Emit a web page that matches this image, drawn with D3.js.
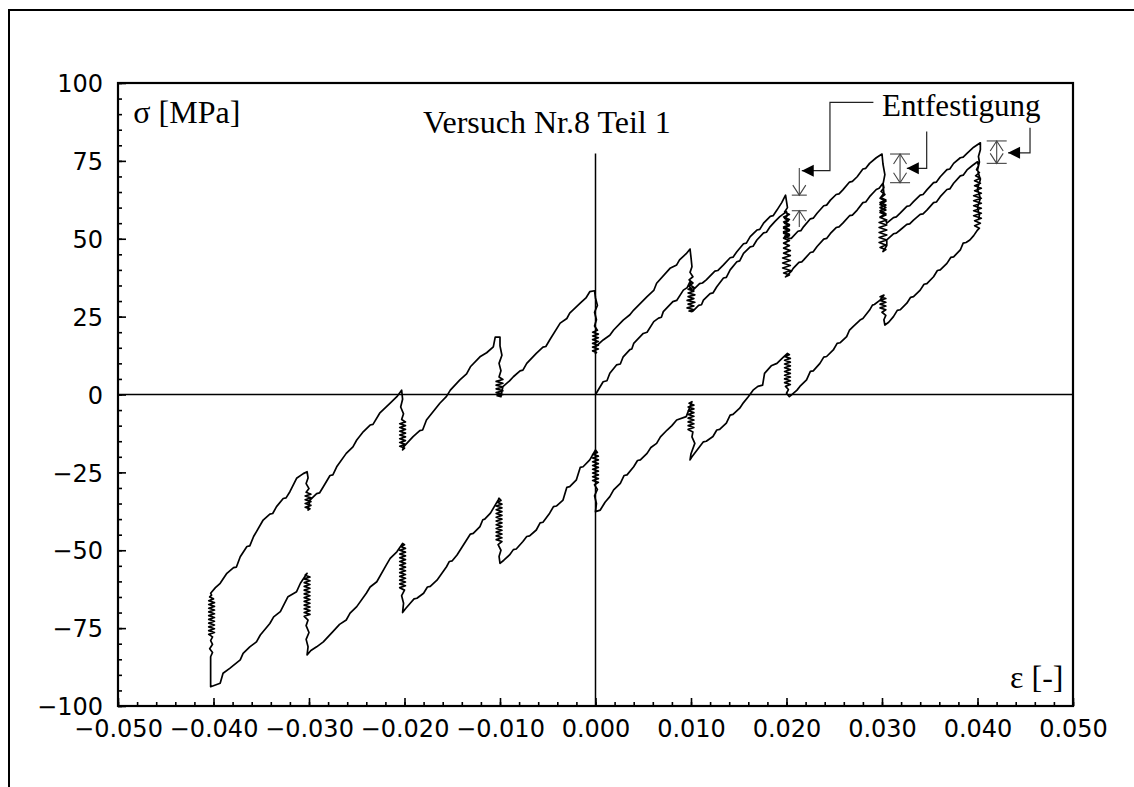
<!DOCTYPE html>
<html>
<head>
<meta charset="utf-8">
<script src="https://cdnjs.cloudflare.com/ajax/libs/d3/7.8.5/d3.min.js"></script>
<style>
body{margin:0;background:#fff}
</style>
</head>
<body>
<div id="chart"></div>
<script>
const xTicks = [-0.05, -0.04, -0.03, -0.02, -0.01, 0, 0.01, 0.02, 0.03, 0.04, 0.05]
const yTicks = [-100, -75, -50, -25, 0, 25, 50, 75, 100]

// [strain, stress] - Erstbelastung 0 -> 0.04 (incl. Relaxation)
const firstLoading = [
  [0,0],[0.0008,4.1],[0.0012,4.4],[0.0015,6.8],[0.0022,9.5],[0.0026,9.8],[0.0029,12.1],[0.0036,14.4],[0.0038,14.6],
  [0.0040,16.4],[0.0050,19.6],[0.0054,20.0],[0.0061,23.4],[0.0066,24.5],[0.0069,24.8],[0.0071,26.6],[0.0081,29.8],
  [0.0085,30.2],[0.0092,33.5],[0.0096,34.3],[0.0099,36.2],
  [0.0100,35.0],[0.0103,34.4],[0.0097,33.8],[0.0103,33.2],[0.0097,32.6],[0.0104,32.0],[0.0097,31.4],[0.0103,30.8],
  [0.0096,30.2],[0.0104,29.6],[0.0097,29.0],[0.0103,28.4],[0.0096,27.8],[0.0103,27.2],[0.0098,26.8],[0.0101,26.6],
  [0.0102,26.8],[0.0108,28.6],[0.0111,28.8],[0.0113,30.3],[0.0120,32.4],[0.0123,32.6],[0.0127,34.6],[0.0134,37.4],
  [0.0137,37.6],[0.0141,40.0],[0.0148,42.6],[0.0151,42.9],[0.0155,45.3],[0.0162,47.4],[0.0165,47.6],[0.0169,49.6],
  [0.0176,51.9],[0.0179,52.1],[0.0183,53.9],[0.0188,55.6],[0.0193,57.1],[0.0200,58.7],
  [0.0201,57.4],[0.0198,56.6],[0.0202,55.8],[0.0198,55.0],[0.0203,54.2],[0.0197,53.4],[0.0203,52.6],[0.0197,51.8],
  [0.0203,51.0],[0.0197,50.2],[0.0203,49.4],[0.0197,48.6],[0.0203,47.8],[0.0197,47.0],[0.0204,46.2],[0.0197,45.4],
  [0.0204,44.6],[0.0196,43.8],[0.0204,43.0],[0.0196,42.2],[0.0204,41.4],[0.0196,40.6],[0.0204,39.8],[0.0197,39.0],
  [0.0203,38.4],[0.0199,37.8],
  [0.0205,39.5],[0.0207,40.5],[0.0213,42.4],[0.0216,42.6],[0.0218,43.2],[0.0225,45.6],[0.0228,45.8],[0.0232,47.5],
  [0.0239,49.9],[0.0242,50.1],[0.0246,51.7],[0.0252,53.6],[0.0255,53.8],[0.0259,55.0],[0.0266,57.4],[0.0269,57.6],
  [0.0274,59.2],[0.0280,61.6],[0.0283,61.8],[0.0287,63.5],[0.0294,65.8],[0.0297,66.2],[0.0301,67.8],
  [0.0302,66.4],[0.0299,65.2],[0.0303,64.2],[0.0299,63.2],[0.0304,62.4],[0.0298,61.6],[0.0304,60.8],[0.0298,60.0],
  [0.0304,59.2],[0.0298,58.4],[0.0304,57.6],[0.0298,56.8],[0.0305,56.0],[0.0297,55.2],[0.0305,54.4],[0.0297,53.6],
  [0.0305,52.8],[0.0297,52.0],[0.0305,51.2],[0.0297,50.4],[0.0305,49.6],[0.0297,48.8],[0.0304,48.0],[0.0298,47.2],
  [0.0304,46.5],[0.0301,45.9],
  [0.0305,47.8],[0.0305,49.6],[0.0312,51.6],[0.0315,51.8],[0.0319,52.8],[0.0326,54.6],[0.0329,54.8],[0.0333,56.0],
  [0.0340,57.8],[0.0343,58.0],[0.0347,59.2],[0.0354,61.6],[0.0357,61.8],[0.0361,63.5],[0.0368,65.8],[0.0371,66.0],
  [0.0375,67.8],[0.0382,70.2],[0.0385,70.4],[0.0389,72.1],[0.0395,73.6],[0.0400,74.7],
  [0.0401,73.4],[0.0399,72.2],[0.0402,71.2],[0.0398,70.2],[0.0403,69.4],[0.0397,68.6],[0.0403,67.8],[0.0397,67.0],
  [0.0404,66.2],[0.0397,65.4],[0.0404,64.6],[0.0396,63.8],[0.0404,63.0],[0.0396,62.2],[0.0404,61.4],[0.0396,60.6],
  [0.0404,59.8],[0.0396,59.0],[0.0404,58.2],[0.0396,57.4],[0.0404,56.6],[0.0397,55.8],[0.0403,55.0],[0.0397,54.2],
  [0.0402,53.4],[0.0400,52.8]
]

// Druckast 0.04 -> -0.04
const compression = [
  [0.0396,51.0],[0.0392,49.6],[0.0388,48.8],[0.0385,48.6],[0.0382,46.4],[0.0375,44.2],[0.0372,44.0],[0.0368,42.1],
  [0.0361,40.0],[0.0358,39.8],[0.0354,37.8],[0.0347,35.6],[0.0344,35.4],[0.0340,33.5],[0.0333,31.4],[0.0330,31.2],
  [0.0326,29.3],[0.0319,27.2],[0.0316,27.0],[0.0312,25.0],[0.0307,23.2],[0.0303,22.3],
  [0.0302,24.0],[0.0304,25.4],[0.0300,26.4],[0.0304,27.2],[0.0298,27.8],[0.0304,28.4],[0.0298,29.0],[0.0304,29.6],
  [0.0298,30.2],[0.0304,30.8],[0.0298,31.4],[0.0302,31.9],
  [0.0298,30.3],[0.0292,28.9],[0.0290,28.7],[0.0287,27.1],[0.0280,24.4],[0.0277,23.9],[0.0270,21.9],[0.0266,20.7],
  [0.0263,18.6],[0.0256,16.6],[0.0253,16.4],[0.0249,14.3],[0.0242,12.2],[0.0239,12.0],[0.0235,10.0],[0.0228,7.6],
  [0.0225,7.4],[0.0221,4.7],[0.0214,2.6],[0.0211,1.4],[0.0205,-0.2],[0.0203,-0.7],
  [0.0200,0.4],[0.0202,1.6],[0.0199,2.6],[0.0204,3.2],[0.0198,3.8],[0.0204,4.4],[0.0198,5.0],[0.0204,5.6],
  [0.0198,6.2],[0.0204,6.8],[0.0198,7.4],[0.0204,8.0],[0.0198,8.6],[0.0204,9.2],[0.0198,9.8],[0.0204,10.4],
  [0.0198,11.0],[0.0204,11.6],[0.0198,12.2],[0.0203,12.8],[0.0201,13.2],
  [0.0197,12.1],[0.0190,10.0],[0.0184,9.2],[0.0177,6.8],[0.0175,3.0],[0.0170,2.6],[0.0165,1.4],[0.0160,-0.7],
  [0.0155,-2.6],[0.0151,-4.4],[0.0144,-6.4],[0.0141,-6.6],[0.0137,-9.2],[0.0130,-11.2],[0.0127,-11.4],[0.0123,-13.5],
  [0.0116,-15.0],[0.0113,-15.2],[0.0109,-16.8],[0.0101,-20.0],[0.0099,-21.0],
  [0.0100,-19.0],[0.0104,-15.7],[0.0101,-13.6],[0.0102,-12.0],[0.0097,-11.2],[0.0103,-10.6],[0.0097,-10.0],[0.0103,-9.4],
  [0.0097,-8.8],[0.0103,-8.2],[0.0097,-7.6],[0.0103,-7.0],[0.0097,-6.4],[0.0103,-5.8],[0.0097,-5.2],[0.0103,-4.6],
  [0.0097,-4.0],[0.0103,-3.4],[0.0098,-2.8],[0.0101,-2.3],
  [0.0095,-7.1],[0.0085,-8.2],[0.0080,-10.0],[0.0075,-11.4],[0.0068,-13.6],[0.0064,-15.7],[0.0058,-17.0],[0.0054,-18.9],
  [0.0047,-21.0],[0.0044,-21.2],[0.0040,-23.2],[0.0033,-25.8],[0.0030,-26.0],[0.0026,-28.5],[0.0019,-30.6],[0.0015,-32.8],
  [0.0010,-34.6],[0.0005,-37.1],[0.0000,-37.6],
  [0.0001,-35.0],[-0.0001,-32.5],[0.0002,-30.5],[-0.0001,-29.0],[0.0003,-28.2],[-0.0003,-27.6],[0.0003,-27.0],[-0.0003,-26.4],
  [0.0003,-25.8],[-0.0003,-25.2],[0.0003,-24.6],[-0.0003,-24.0],[0.0003,-23.4],[-0.0003,-22.8],[0.0003,-22.2],[-0.0003,-21.6],
  [0.0003,-21.0],[-0.0003,-20.4],[0.0003,-19.8],[-0.0003,-19.2],[0.0002,-18.6],[0.0000,-17.8],
  [-0.0006,-21.0],[-0.0013,-23.2],[-0.0016,-23.4],[-0.0020,-27.4],[-0.0027,-29.6],[-0.0030,-29.8],[-0.0034,-33.9],[-0.0041,-35.8],
  [-0.0044,-36.0],[-0.0048,-38.1],[-0.0055,-41.0],[-0.0058,-41.2],[-0.0062,-43.5],[-0.0069,-45.4],[-0.0072,-45.6],[-0.0076,-47.2],
  [-0.0083,-49.6],[-0.0086,-49.8],[-0.0090,-51.5],[-0.0096,-53.2],[-0.0100,-54.2],
  [-0.0101,-52.0],[-0.0099,-50.0],[-0.0102,-48.2],[-0.0098,-47.2],[-0.0104,-46.6],[-0.0098,-46.0],[-0.0104,-45.4],[-0.0098,-44.8],
  [-0.0104,-44.2],[-0.0098,-43.6],[-0.0104,-43.0],[-0.0098,-42.4],[-0.0104,-41.8],[-0.0098,-41.2],[-0.0104,-40.6],[-0.0098,-40.0],
  [-0.0104,-39.4],[-0.0098,-38.8],[-0.0104,-38.2],[-0.0098,-37.6],[-0.0104,-37.0],[-0.0098,-36.4],[-0.0104,-35.8],[-0.0098,-35.2],
  [-0.0103,-34.6],[-0.0099,-34.0],[-0.0101,-33.3],
  [-0.0102,-33.9],[-0.0110,-38.1],[-0.0116,-40.0],[-0.0118,-40.2],[-0.0121,-42.4],[-0.0128,-44.6],[-0.0131,-44.8],[-0.0135,-46.7],
  [-0.0145,-51.5],[-0.0150,-53.4],[-0.0153,-53.6],[-0.0156,-55.3],[-0.0166,-59.6],[-0.0173,-61.6],[-0.0176,-61.8],[-0.0180,-63.8],
  [-0.0187,-65.4],[-0.0190,-65.6],[-0.0194,-67.0],[-0.0199,-68.8],[-0.0202,-70.0],
  [-0.0201,-67.0],[-0.0203,-64.6],[-0.0200,-62.8],[-0.0205,-62.0],[-0.0199,-61.4],[-0.0205,-60.8],[-0.0199,-60.2],[-0.0205,-59.6],
  [-0.0199,-59.0],[-0.0205,-58.4],[-0.0199,-57.8],[-0.0205,-57.2],[-0.0199,-56.6],[-0.0205,-56.0],[-0.0199,-55.4],[-0.0205,-54.8],
  [-0.0199,-54.2],[-0.0205,-53.6],[-0.0199,-53.0],[-0.0205,-52.4],[-0.0199,-51.8],[-0.0205,-51.2],[-0.0199,-50.6],[-0.0205,-50.0],
  [-0.0199,-49.4],[-0.0204,-48.8],[-0.0200,-48.2],[-0.0202,-47.8],
  [-0.0208,-50.5],[-0.0215,-52.6],[-0.0219,-54.7],[-0.0229,-60.1],[-0.0236,-61.8],[-0.0240,-63.8],[-0.0250,-68.1],[-0.0257,-70.2],
  [-0.0261,-72.4],[-0.0268,-73.8],[-0.0275,-76.1],[-0.0285,-79.4],[-0.0292,-81.0],[-0.0298,-82.2],[-0.0302,-83.6],
  [-0.0301,-81.0],[-0.0303,-78.6],[-0.0300,-76.4],[-0.0303,-74.2],[-0.0301,-72.4],[-0.0305,-71.2],[-0.0299,-70.6],[-0.0305,-70.0],
  [-0.0299,-69.4],[-0.0305,-68.8],[-0.0299,-68.2],[-0.0305,-67.6],[-0.0299,-67.0],[-0.0305,-66.4],[-0.0299,-65.8],[-0.0305,-65.2],
  [-0.0299,-64.6],[-0.0305,-64.0],[-0.0299,-63.4],[-0.0305,-62.8],[-0.0299,-62.2],[-0.0305,-61.6],[-0.0299,-61.0],[-0.0305,-60.4],
  [-0.0299,-59.8],[-0.0305,-59.2],[-0.0299,-58.6],[-0.0304,-58.0],[-0.0302,-57.4],
  [-0.0309,-60.6],[-0.0313,-63.3],[-0.0322,-64.9],[-0.0330,-69.7],[-0.0337,-71.4],[-0.0341,-73.5],[-0.0351,-77.2],[-0.0355,-79.4],
  [-0.0362,-81.0],[-0.0369,-83.1],[-0.0372,-85.2],[-0.0383,-87.9],[-0.0390,-89.5],[-0.0393,-92.7],[-0.0403,-93.8],
  [-0.0403,-84.2],[-0.0401,-82.8],[-0.0404,-81.6],[-0.0401,-80.2],[-0.0403,-79.0],[-0.0401,-77.8],[-0.0405,-77.0],[-0.0399,-76.4],
  [-0.0405,-75.8],[-0.0399,-75.2],[-0.0405,-74.6],[-0.0399,-74.0],[-0.0405,-73.4],[-0.0399,-72.8],[-0.0405,-72.2],[-0.0399,-71.6],
  [-0.0405,-71.0],[-0.0399,-70.4],[-0.0405,-69.8],[-0.0399,-69.2],[-0.0405,-68.6],[-0.0399,-68.0],[-0.0405,-67.4],[-0.0399,-66.8],
  [-0.0405,-66.2],[-0.0400,-65.6],[-0.0404,-65.0],[-0.0402,-64.4]
]

// Wiederbelastung -0.04 -> 0.04
const reloading = [
  [-0.0403,-63.8],[-0.0398,-62.0],[-0.0393,-60.6],[-0.0386,-57.4],[-0.0379,-55.6],[-0.0376,-55.4],[-0.0372,-52.1],[-0.0365,-48.8],
  [-0.0362,-48.6],[-0.0358,-45.6],[-0.0348,-40.3],[-0.0341,-38.4],[-0.0338,-38.2],[-0.0334,-36.0],[-0.0327,-33.4],[-0.0324,-33.2],
  [-0.0320,-31.2],[-0.0313,-26.9],[-0.0306,-25.4],[-0.0302,-24.8],
  [-0.0301,-26.8],[-0.0303,-28.6],[-0.0300,-30.2],[-0.0303,-31.4],[-0.0298,-32.0],[-0.0304,-32.6],[-0.0298,-33.2],[-0.0304,-33.8],
  [-0.0298,-34.4],[-0.0304,-35.0],[-0.0298,-35.6],[-0.0304,-36.2],[-0.0299,-36.7],[-0.0301,-37.1],
  [-0.0299,-33.9],[-0.0292,-31.8],[-0.0289,-31.6],[-0.0285,-29.6],[-0.0278,-26.0],[-0.0275,-25.8],[-0.0271,-23.2],[-0.0261,-18.9],
  [-0.0254,-16.8],[-0.0250,-14.6],[-0.0243,-11.9],[-0.0236,-9.8],[-0.0233,-9.6],[-0.0226,-6.0],[-0.0215,-2.8],[-0.0208,-0.7],
  [-0.0203,1.4],
  [-0.0202,-1.5],[-0.0204,-4.0],[-0.0201,-6.2],[-0.0203,-8.0],[-0.0199,-8.8],[-0.0205,-9.4],[-0.0199,-10.0],[-0.0205,-10.6],
  [-0.0199,-11.2],[-0.0205,-11.8],[-0.0199,-12.4],[-0.0205,-13.0],[-0.0199,-13.6],[-0.0205,-14.2],[-0.0199,-14.8],[-0.0205,-15.4],
  [-0.0199,-16.0],[-0.0205,-16.6],[-0.0200,-17.2],[-0.0202,-17.8],
  [-0.0201,-16.8],[-0.0191,-13.5],[-0.0184,-11.6],[-0.0181,-11.4],[-0.0177,-8.2],[-0.0163,-2.8],[-0.0156,-0.6],[-0.0152,1.4],
  [-0.0142,4.7],[-0.0135,6.6],[-0.0131,8.9],[-0.0121,12.1],[-0.0114,13.4],[-0.0107,15.3],[-0.0105,18.4],[-0.0100,18.4],
  [-0.0100,15.6],[-0.0098,12.6],[-0.0101,10.0],[-0.0099,7.6],[-0.0101,5.6],[-0.0097,4.8],[-0.0104,4.2],[-0.0097,3.6],
  [-0.0104,3.0],[-0.0097,2.4],[-0.0104,1.8],[-0.0097,1.2],[-0.0104,0.6],[-0.0097,0.0],[-0.0103,-0.4],[-0.0099,-0.7],
  [-0.0097,2.5],[-0.0090,4.4],[-0.0086,5.7],[-0.0079,7.6],[-0.0076,7.8],[-0.0072,10.0],[-0.0062,13.2],[-0.0055,15.2],
  [-0.0052,15.4],[-0.0048,17.5],[-0.0037,22.9],[-0.0030,24.4],[-0.0027,26.1],[-0.0016,29.3],[-0.0010,31.0],[-0.0006,33.0],
  [-0.0001,33.3],
  [0.0000,31.0],[0.0002,28.6],[-0.0001,26.4],[0.0001,24.0],[-0.0001,22.0],[0.0002,20.6],[-0.0003,20.0],[0.0003,19.4],
  [-0.0003,18.8],[0.0003,18.2],[-0.0003,17.6],[0.0003,17.0],[-0.0003,16.4],[0.0003,15.8],[-0.0003,15.2],[0.0003,14.6],
  [-0.0003,14.0],[0.0001,13.5],[0.0000,13.2],
  [0.0000,15.3],[0.0008,17.5],[0.0015,19.0],[0.0019,20.7],[0.0029,23.9],[0.0036,25.6],[0.0040,27.1],[0.0054,31.4],
  [0.0061,33.4],[0.0064,35.7],[0.0078,40.5],[0.0085,41.6],[0.0088,43.2],[0.0095,45.2],[0.0099,46.7],
  [0.0100,44.0],[0.0101,41.0],[0.0099,39.2],[0.0102,37.8],[0.0098,36.8],[0.0102,35.8],[0.0098,34.8],[0.0101,33.5],
  [0.0102,33.5],[0.0109,35.6],[0.0112,35.8],[0.0116,36.8],[0.0125,39.6],[0.0128,39.8],[0.0134,41.6],[0.0141,43.9],
  [0.0144,44.1],[0.0148,45.8],[0.0155,48.4],[0.0158,48.6],[0.0162,50.7],[0.0169,52.8],[0.0172,53.0],[0.0176,55.0],
  [0.0183,57.2],[0.0186,57.4],[0.0190,59.2],[0.0195,61.6],[0.0199,64.0],
  [0.0200,62.0],[0.0201,60.0],[0.0198,58.6],[0.0203,57.8],[0.0197,57.0],[0.0203,56.2],[0.0197,55.4],[0.0203,54.6],
  [0.0197,53.8],[0.0203,53.0],[0.0197,52.2],[0.0203,51.4],[0.0198,50.8],[0.0203,50.1],
  [0.0205,50.1],[0.0212,52.4],[0.0215,52.6],[0.0218,53.9],[0.0225,56.4],[0.0228,56.6],[0.0232,58.2],[0.0239,60.6],
  [0.0242,60.8],[0.0246,62.4],[0.0252,64.2],[0.0255,64.4],[0.0259,65.7],[0.0266,68.2],[0.0269,68.4],[0.0274,69.9],
  [0.0280,72.4],[0.0283,72.6],[0.0287,74.2],[0.0294,76.0],[0.0300,77.2],
  [0.0301,74.0],[0.0303,70.6],[0.0301,67.4],[0.0302,64.6],[0.0298,63.0],[0.0304,62.0],[0.0298,61.0],[0.0304,60.0],
  [0.0298,59.0],[0.0304,58.0],[0.0298,57.0],[0.0304,56.0],[0.0305,55.0],
  [0.0312,56.8],[0.0315,57.0],[0.0319,58.2],[0.0326,60.4],[0.0329,60.6],[0.0333,61.9],[0.0340,64.0],[0.0343,64.2],
  [0.0347,65.7],[0.0354,68.0],[0.0357,68.2],[0.0361,69.9],[0.0368,72.2],[0.0371,72.4],[0.0375,74.2],[0.0382,76.0],
  [0.0385,76.2],[0.0389,77.4],[0.0396,79.4],[0.0403,80.8],
  [0.0403,78.6],[0.0401,76.4],[0.0402,74.6],[0.0400,72.0],[0.0403,69.0],[0.0400,66.0],[0.0403,63.0],[0.0400,60.0],
  [0.0402,57.6],[0.0401,56.0]
]

// Entfestigung: Hinweislinien (strain, stress) und Bemassung
const leaders = [
  [[0.0291, 93.8], [0.02455, 93.8], [0.02455, 71.85], [0.0216, 71.85]],
  [[0.03468, 84.4], [0.03468, 72.6], [0.0326, 72.6]],
  [[0.0455, 85.6], [0.0455, 77.6], [0.0432, 77.6]]
]
const softening = [
  {strain: 0.02134, hi: 64.0, lo: 59.0, above: 72.7, below: 53.8},
  {strain: 0.03189, hi: 77.2, lo: 68.0},
  {strain: 0.04201, hi: 81.4, lo: 74.2}
]
const zeroLineTop = 77.4

function drawChart(){
    let W = 1134, H = 787
    let margin = {top: 83, right: 61, bottom: 81, left: 118}
    let pxX = W - margin.left - margin.right,
        pxY = H - margin.top - margin.bottom

    let root = d3.select('#chart').append('svg')
        .attr('width', W)
        .attr('height', H)
        .style('background', '#fff')

    // outer frame (only top/left visible)
    root.append('path')
        .attr('d', `M9,${H} L9,10 L${W},10`)
        .attr('fill', 'none')
        .attr('stroke', 'black')
        .attr('stroke-width', 2)

    let svg = root.append('g')
        .attr('transform', `translate(${margin.left} ${margin.top})`)

    let scX = d3.scaleLinear().domain([-0.05, 0.05]).range([0, pxX])
    let scY = d3.scaleLinear().domain([-100, 100]).range([pxY, 0])

    let tickFont = 'DejaVu Sans, Verdana, sans-serif'

    // minor ticks
    svg.append('g')
        .attr('transform', `translate(0, ${pxY})`)
        .call(d3.axisBottom(scX).ticks(50).tickSize(-4).tickFormat(''))
        .call(g => g.select('.domain').remove())
        .selectAll('line').attr('stroke-width', 1.6)
    svg.append('g')
        .call(d3.axisLeft(scY).ticks(40).tickSize(-4).tickFormat(''))
        .call(g => g.select('.domain').remove())
        .selectAll('line').attr('stroke-width', 1.6)

    let xAxis = d3.axisBottom(scX).tickValues(xTicks).tickSize(-8).tickPadding(14).tickFormat(d3.format('.3f'))
    let gx = svg.append('g')
        .attr('transform', `translate(0, ${pxY})`)
        .call(xAxis)
    gx.select('.domain').remove()
    gx.selectAll('line').attr('stroke-width', 1.6)
    gx.selectAll('text')
        .attr('font-family', tickFont)
        .attr('font-size', '24px')
        .attr('fill', 'black')

    let yAxis = d3.axisLeft(scY).tickValues(yTicks).tickSize(-8).tickPadding(15).tickFormat(d3.format('d'))
    let gy = svg.append('g').call(yAxis)
    gy.select('.domain').remove()
    gy.selectAll('line').attr('stroke-width', 1.6)
    gy.selectAll('text')
        .attr('font-family', tickFont)
        .attr('font-size', '24px')
        .attr('dy', '0.36em')
        .attr('fill', 'black')

    // zero lines
    svg.append('line')
        .attr('x1', scX(-0.05)).attr('x2', scX(0.05))
        .attr('y1', scY(0)).attr('y2', scY(0))
        .attr('stroke', 'black').attr('stroke-width', 1.5)
    svg.append('line')
        .attr('x1', scX(0)).attr('x2', scX(0))
        .attr('y1', scY(zeroLineTop)).attr('y2', scY(-100))
        .attr('stroke', 'black').attr('stroke-width', 1.5)

    // hysteresis
    let line = d3.line().x(d => scX(d[0])).y(d => scY(d[1]))
    let loop = firstLoading.concat(compression, reloading)
    svg.append('path')
        .datum(loop)
        .attr('d', line)
        .attr('fill', 'none')
        .attr('stroke', 'black')
        .attr('stroke-width', 1.7)
        .attr('stroke-linejoin', 'round')

    // frame
    svg.append('rect')
        .attr('x', 0).attr('y', 0)
        .attr('width', pxX).attr('height', pxY)
        .attr('fill', 'none')
        .attr('stroke', 'black')
        .attr('stroke-width', 2.2)

    // texts
    let serif = 'Liberation Serif, Times New Roman, serif'
    svg.append('text')
        .attr('x', scX(-0.0051)).attr('y', scY(83.9))
        .attr('text-anchor', 'middle')
        .attr('font-family', serif).attr('font-size', '32px')
        .text('Versuch Nr.8 Teil 1')
    svg.append('text')
        .attr('x', scX(-0.0484)).attr('y', scY(87.2))
        .attr('font-family', serif).attr('font-size', '32px')
        .text('σ [MPa]')
    svg.append('text')
        .attr('x', scX(0.0490)).attr('y', scY(-94.2))
        .attr('text-anchor', 'end')
        .attr('font-family', serif).attr('font-size', '32px')
        .text('ε [-]')
    svg.append('text')
        .attr('x', scX(0.0300)).attr('y', scY(89.4))
        .attr('font-family', serif).attr('font-size', '31px')
        .text('Entfestigung')

    // leader lines with filled arrowheads
    let ann = svg.append('g')
    leaders.forEach(pts => {
        ann.append('path')
            .attr('d', line(pts))
            .attr('fill', 'none')
            .attr('stroke', '#222')
            .attr('stroke-width', 1.2)
        let tip = pts[pts.length - 1]
        let tx = scX(tip[0]), ty = scY(tip[1])
        ann.append('path')
            .attr('d', `M${tx},${ty} L${tx + 12},${ty - 6} L${tx + 12},${ty + 6} Z`)
            .attr('fill', 'black')
    })

    // softening dimensions
    let vHead = (x, y, dir) => `M${x - 6.5},${y - 10 * dir} L${x},${y} L${x + 6.5},${y - 10 * dir}`
    softening.forEach(s => {
        let x = scX(s.strain), yH = scY(s.hi), yL = scY(s.lo)
        let half = s.above ? 7.5 : 10
        let d = ann.append('g')
            .attr('fill', 'none')
            .attr('stroke', '#444')
            .attr('stroke-width', 1.1)
        d.append('line').attr('x1', x - half).attr('x2', x + half).attr('y1', yH).attr('y2', yH)
        d.append('line').attr('x1', x - half).attr('x2', x + half).attr('y1', yL).attr('y2', yL)
        if (s.above) {
            d.append('line').attr('x1', x).attr('x2', x).attr('y1', scY(s.above)).attr('y2', yH)
            d.append('path').attr('d', vHead(x, yH, 1))
            d.append('line').attr('x1', x).attr('x2', x).attr('y1', scY(s.below)).attr('y2', yL)
            d.append('path').attr('d', vHead(x, yL, -1))
        } else {
            d.append('line').attr('x1', x).attr('x2', x).attr('y1', yH).attr('y2', yL)
            d.append('path').attr('d', vHead(x, yH, -1))
            d.append('path').attr('d', vHead(x, yL, 1))
        }
    })
}

drawChart()
</script>
</body>
</html>
